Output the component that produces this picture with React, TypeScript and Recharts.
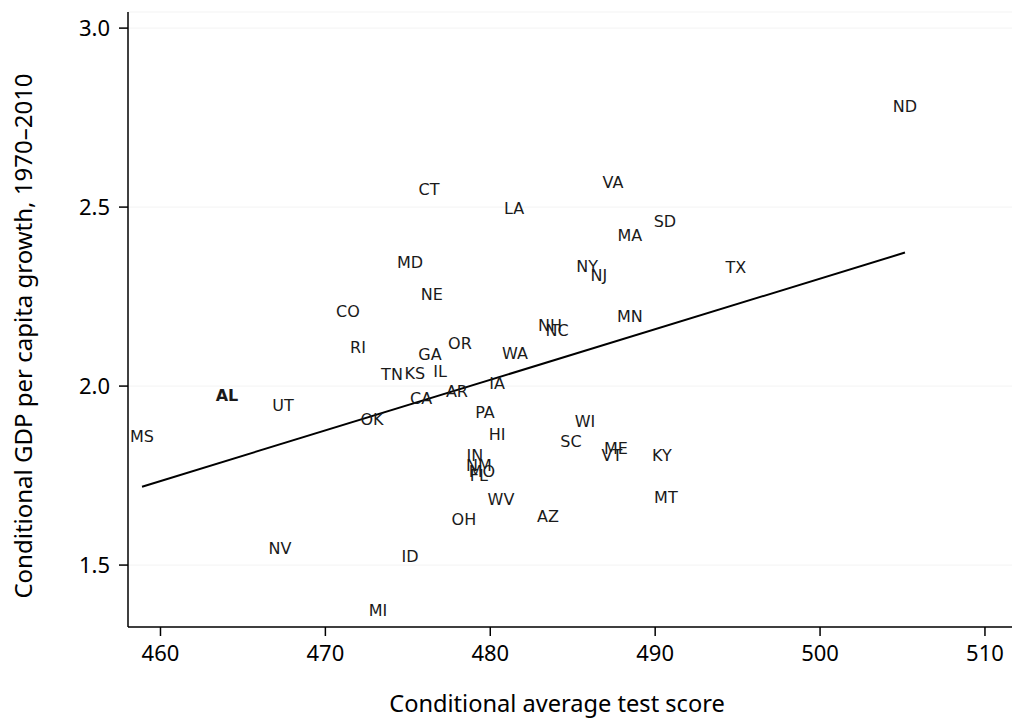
import React from "react";
import {
  ScatterChart,
  Scatter,
  XAxis,
  YAxis,
  CartesianGrid,
  Label,
} from "recharts";

// State labels and their (conditional) values
const states = [
  "ND", "VA", "CT", "LA", "SD", "MA", "MD", "NY", "NJ", "TX",
  "NE", "CO", "MN", "NH", "NC", "RI", "OR", "GA", "WA", "IL",
  "TN", "KS", "AL", "IA", "AR", "CA", "UT", "PA", "OK", "MS",
  "WI", "HI", "SC", "ME", "VT", "KY", "IN", "NM", "MO", "FL",
  "MT", "WV", "AZ", "OH", "NV", "ID", "MI",
];
const testScores = [
  505.15, 487.44, 476.28, 481.44, 490.59, 488.47, 475.14, 485.87, 486.59, 494.9,
  476.46, 471.37, 488.47, 483.62, 484.05, 471.98, 478.16, 476.34, 481.5, 476.95,
  474.04, 475.43, 464.03, 480.41, 477.98, 475.8, 467.43, 479.68, 472.83, 458.88,
  485.74, 480.41, 484.89, 487.62, 487.38, 490.41, 479.07, 479.31, 479.49, 479.31,
  490.65, 480.65, 483.5, 478.4, 467.25, 475.14, 473.19,
];
const growth = [
  2.782, 2.57, 2.55, 2.497, 2.461, 2.422, 2.346, 2.335, 2.31, 2.332,
  2.257, 2.209, 2.193, 2.17, 2.154, 2.109, 2.12, 2.087, 2.092, 2.042,
  2.031, 2.034, 1.975, 2.006, 1.986, 1.964, 1.947, 1.925, 1.908, 1.86,
  1.902, 1.866, 1.846, 1.827, 1.807, 1.807, 1.807, 1.777, 1.76, 1.749,
  1.69, 1.682, 1.637, 1.628, 1.545, 1.525, 1.374,
];

// Fitted line endpoints
const fitX = [458.88, 505.15];
const fitY = [1.719, 2.373];

const xTicks = [460, 470, 480, 490, 500, 510];
const yTicks = [1.5, 2.0, 2.5, 3.0];

const boldStates = ["AL"];

const pointData = states.map((s, i) => ({ state: s, x: testScores[i], y: growth[i] }));
const lineData = fitX.map((x, i) => ({ x, y: fitY[i] }));

const TICK_FONT = "'Noto Sans', 'Open Sans', sans-serif";

const StateLabel = (props: any) => {
  const { cx, cy, payload } = props;
  if (cx == null || cy == null) return null;
  const bold = boldStates.includes(payload.state);
  return (
    <text
      x={cx}
      y={cy}
      textAnchor="middle"
      dominantBaseline="central"
      fontFamily="'DejaVu Sans', sans-serif"
      fontSize={16}
      fontWeight={bold ? "bold" : "normal"}
      fill="#1a1a1a"
    >
      {payload.state}
    </text>
  );
};

export default function App() {
  return (
    <div style={{ position: "absolute", left: 0, top: 0, background: "#fff" }}>
      <ScatterChart
        width={1013}
        height={719}
        margin={{ top: 12, right: 1, bottom: 0, left: 0 }}
      >
        <CartesianGrid vertical={false} stroke="#f3f3f3" strokeWidth={1} />
        <XAxis
          type="number"
          dataKey="x"
          domain={[458.03, 511.64]}
          ticks={xTicks}
          allowDataOverflow
          stroke="#000"
          strokeWidth={1.5}
          tickSize={9}
          tickMargin={9}
          tick={{ fontSize: 22, fill: "#000", fontFamily: TICK_FONT }}
          height={92}
        >
          <Label
            content={() => (
              <text
                x={557}
                y={703}
                textAnchor="middle"
                dominantBaseline="central"
                fontSize={23.6}
                fontFamily={TICK_FONT}
                fill="#000"
              >
                Conditional average test score
              </text>
            )}
          />
        </XAxis>
        <YAxis
          type="number"
          dataKey="y"
          domain={[1.327, 3.045]}
          ticks={yTicks}
          allowDataOverflow
          width={128}
          stroke="#000"
          strokeWidth={1.5}
          tickSize={9}
          tickMargin={9}
          tickFormatter={(v: number) => v.toFixed(1)}
          tick={{ fontSize: 22, fill: "#000", fontFamily: TICK_FONT }}
        >
          <Label
            content={() => (
              <text
                x={22}
                y={336}
                transform="rotate(-90 22 336)"
                textAnchor="middle"
                dominantBaseline="central"
                fontSize={24}
                fontFamily={TICK_FONT}
                fill="#000"
              >
                Conditional GDP per capita growth, 1970–2010
              </text>
            )}
          />
        </YAxis>
        <Scatter
          data={lineData}
          line={{ stroke: "#000", strokeWidth: 2 }}
          shape={() => null}
          isAnimationActive={false}
        />
        <Scatter data={pointData} shape={StateLabel} isAnimationActive={false} />
      </ScatterChart>
    </div>
  );
}
